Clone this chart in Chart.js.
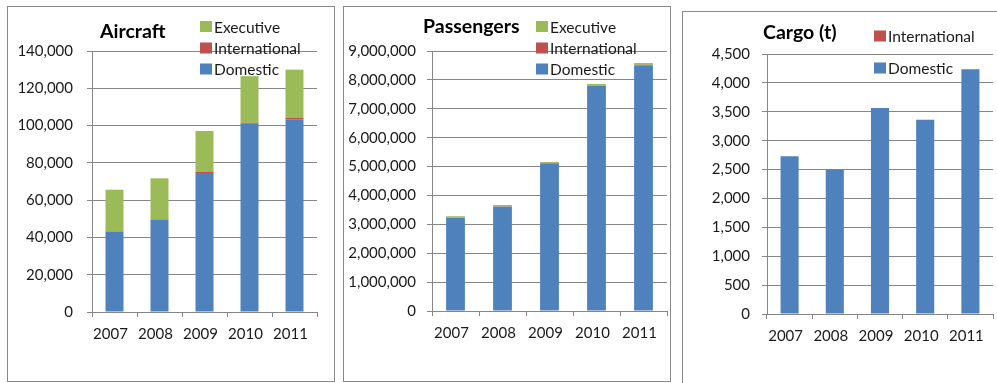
<!DOCTYPE html>
<html>
<head>
<meta charset="utf-8">
<title>Airport traffic 2007-2011</title>
<script src="https://cdn.jsdelivr.net/npm/chart.js@4.4.1/dist/chart.umd.min.js"></script>
<style>
  html, body { margin: 0; padding: 0; background: #fff; }
  body { width: 997px; height: 383px; position: relative; overflow: hidden; }
  .panel { position: absolute; border: 1px solid #8a8a8a; box-sizing: border-box; background: #fff; }
  canvas { position: absolute; }
</style>
</head>
<body>
<div class="panel" style="left:7px;top:6px;width:328px;height:376px"></div>
<div class="panel" style="left:343px;top:6px;width:328px;height:376px"></div>
<div class="panel" style="left:682px;top:11px;width:400px;height:400px"></div>
<canvas id="aircraft" width="325" height="373" style="left:8px;top:7px"></canvas>
<canvas id="passengers" width="325" height="373" style="left:344px;top:7px"></canvas>
<canvas id="cargo" width="314" height="371" style="left:683px;top:12px"></canvas>
<script>
const years = ['2007', '2008', '2009', '2010', '2011'];

const aircraftDomestic = [43000, 49300, 74500, 101200, 103200];
const aircraftInternational = [200, 300, 800, 300, 1000];
const aircraftExecutive = [22400, 22100, 21800, 25000, 25800];

const passengersDomestic = [3230000, 3610000, 5100000, 7800000, 8510000];
const passengersInternational = [8000, 8000, 30000, 10000, 12000];
const passengersExecutive = [42000, 52000, 28000, 50000, 60000];

const cargoDomestic = [2730, 2500, 3565, 3360, 4235];
const cargoInternational = [0, 0, 0, 0, 0];

const BLUE = '#4f81bd', RED = '#c0504d', GREEN = '#9bbb59';
const GRID = '#868686';
const TEXT = '#1a1a1a';
const FONT = 'Lato';

// title + legend drawn over the plot, legend listed top-down in reverse stack order
const panelDecor = {
  id: 'panelDecor',
  afterDraw(chart, args, o) {
    const ctx = chart.ctx;
    ctx.save();
    ctx.textAlign = 'left';
    ctx.textBaseline = 'middle';
    ctx.fillStyle = '#000';
    ctx.font = 'bold 19.5px ' + FONT;
    ctx.fillText(o.title, o.titleX, o.titleY);
    ctx.font = '15.5px ' + FONT;
    chart.data.datasets.slice().reverse().forEach((ds, i) => {
      const y = o.legendY[i];
      ctx.fillStyle = ds.backgroundColor;
      ctx.fillRect(o.legendX, y - 5.5, 12, 11);
      ctx.fillStyle = TEXT;
      ctx.fillText(ds.label, o.legendX + 14, y + 1);
    });
    ctx.restore();
  }
};

function makeChart(id, series, yMax, yStep, box) {
  const datasets = series.map(s => ({
    label: s.label,
    data: s.data,
    backgroundColor: s.color,
    borderWidth: 0,
    categoryPercentage: 1,
    barPercentage: 0.4
  }));
  return new Chart(document.getElementById(id), {
    type: 'bar',
    data: { labels: years, datasets },
    plugins: [panelDecor],
    options: {
      responsive: false,
      animation: false,
      events: [],
      layout: { padding: { top: box.top, right: box.right, bottom: 0, left: 0 } },
      plugins: {
        legend: { display: false },
        tooltip: { enabled: false },
        panelDecor: box.decor
      },
      scales: {
        x: {
          stacked: true,
          grid: { display: true, drawOnChartArea: false, offset: true, color: GRID, tickLength: 5 },
          border: { color: GRID },
          ticks: { color: TEXT, font: { family: FONT, size: 15 }, padding: 8, labelOffset: -4, maxRotation: 0 },
          afterFit: s => { s.height = box.xHeight; }
        },
        y: {
          stacked: true,
          min: 0,
          max: yMax,
          grid: { color: GRID, tickLength: 5 },
          border: { color: GRID },
          ticks: {
            stepSize: yStep,
            color: TEXT,
            font: { family: FONT, size: 15 },
            padding: box.yPad,
            callback: v => v.toLocaleString('en-US')
          },
          afterFit: s => { s.width = box.yWidth; }
        }
      }
    }
  });
}

makeChart('aircraft', [
  { label: 'Domestic', data: aircraftDomestic, color: BLUE },
  { label: 'International', data: aircraftInternational, color: RED },
  { label: 'Executive', data: aircraftExecutive, color: GREEN }
], 140000, 20000, {
  top: 44, right: 16, xHeight: 68, yWidth: 84, yPad: 14,
  decor: { title: 'Aircraft', titleX: 92, titleY: 25, legendX: 192, legendY: [19.5, 41, 62] }
});

makeChart('passengers', [
  { label: 'Domestic', data: passengersDomestic, color: BLUE },
  { label: 'International', data: passengersInternational, color: RED },
  { label: 'Executive', data: passengersExecutive, color: GREEN }
], 9000000, 1000000, {
  top: 44, right: 1, xHeight: 69, yWidth: 88, yPad: 11,
  decor: { title: 'Passengers', titleX: 79, titleY: 20, legendX: 192, legendY: [19.5, 41, 62] }
});

makeChart('cargo', [
  { label: 'Domestic', data: cargoDomestic, color: BLUE },
  { label: 'International', data: cargoInternational, color: RED }
], 4500, 500, {
  top: 42, right: 4, xHeight: 69, yWidth: 84, yPad: 12,
  decor: { title: 'Cargo (t)', titleX: 80, titleY: 21, legendX: 191, legendY: [24, 56] }
});
</script>
</body>
</html>
